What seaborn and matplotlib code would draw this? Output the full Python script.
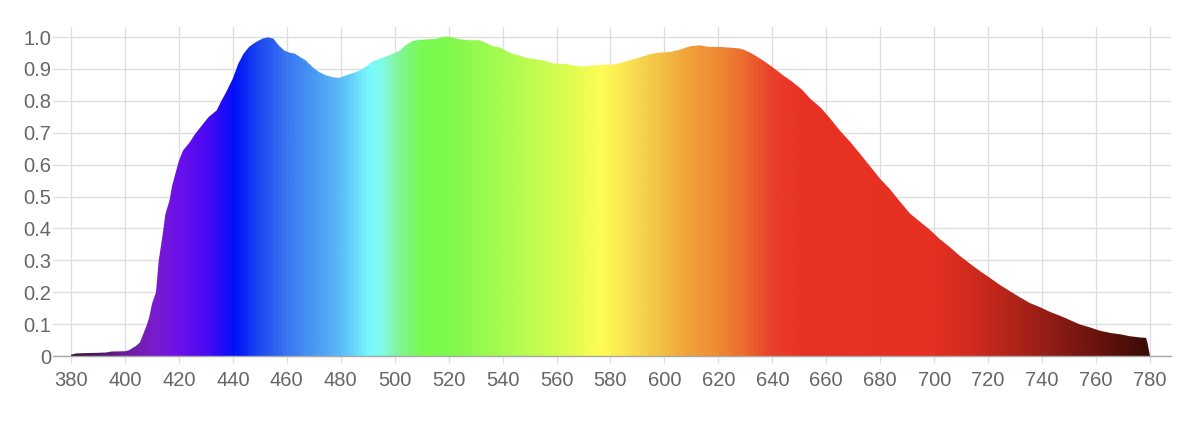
"""
Spectral power distribution, filled with a wavelength colour gradient
"""

import numpy as np
import pandas as pd
import matplotlib
matplotlib.use('Agg')
import matplotlib.pyplot as plt
import seaborn as sns
from matplotlib.colors import LinearSegmentedColormap

# --- Data ---
wavelength = [380, 382, 385, 390, 393, 395, 400, 401.5, 404, 405.5, 406.5, 408, 409, 410,
              411.5, 412.5, 414, 415, 416.5, 417.5, 419, 420, 421.5, 424, 426, 429, 431,
              434, 435.5, 437.5, 440, 442, 444, 446, 448.5, 451, 453, 455, 457, 459, 461,
              463, 465, 467, 469.5, 472, 474.5, 477, 479.5, 482, 484.5, 487, 489.5, 492,
              494.5, 497, 499.5, 502, 504, 506.5, 509, 513, 515.5, 518, 519.5, 521.5, 524,
              528, 531.5, 534, 536.5, 539, 541, 543.5, 546, 548.5, 551, 553.5, 556, 558.5,
              561, 563.5, 566, 568.5, 571, 573.5, 577, 581, 583.5, 587, 590.5, 594.5, 598,
              602, 605.5, 609.5, 613, 616.5, 620.5, 624, 628, 630, 632.5, 636.5, 640, 644,
              647.5, 651, 654, 658, 661.5, 665, 669, 672.5, 676.5, 680, 683.5, 687.5, 691,
              695, 698.5, 702, 706, 709.5, 713.5, 717, 721, 724.5, 728.5, 732, 735.5,
              739.5, 743, 747, 750.5, 754, 758, 761.5, 765.5, 769, 772.5, 776.5, 778.5,
              779, 780]
intensity = [0.004, 0.008, 0.009, 0.010, 0.011, 0.014, 0.015, 0.018, 0.031, 0.042, 0.063,
             0.095, 0.121, 0.163, 0.200, 0.298, 0.382, 0.445, 0.487, 0.534, 0.581, 0.612,
             0.644, 0.670, 0.696, 0.728, 0.749, 0.770, 0.796, 0.827, 0.870, 0.916, 0.948,
             0.969, 0.984, 0.995, 0.999, 0.995, 0.974, 0.958, 0.951, 0.948, 0.937, 0.927,
             0.906, 0.890, 0.880, 0.874, 0.872, 0.880, 0.887, 0.895, 0.908, 0.924, 0.932,
             0.940, 0.948, 0.958, 0.974, 0.987, 0.991, 0.993, 0.995, 1.000, 1.002, 0.998,
             0.993, 0.990, 0.990, 0.981, 0.971, 0.967, 0.958, 0.948, 0.943, 0.935, 0.932,
             0.929, 0.925, 0.918, 0.916, 0.916, 0.911, 0.908, 0.908, 0.911, 0.913, 0.914,
             0.918, 0.927, 0.935, 0.946, 0.951, 0.953, 0.960, 0.971, 0.974, 0.969, 0.969,
             0.967, 0.964, 0.958, 0.948, 0.927, 0.906, 0.880, 0.859, 0.835, 0.807, 0.778,
             0.744, 0.707, 0.670, 0.634, 0.592, 0.555, 0.524, 0.482, 0.447, 0.419, 0.395,
             0.367, 0.340, 0.314, 0.288, 0.266, 0.243, 0.222, 0.201, 0.183, 0.166, 0.152,
             0.138, 0.125, 0.112, 0.099, 0.089, 0.079, 0.072, 0.068, 0.062, 0.058, 0.057,
             0.044, 0.0]

x_ticks = list(range(380, 781, 20))
y_ticks = [0, 0.1, 0.2, 0.3, 0.4, 0.5, 0.6, 0.7, 0.8, 0.9, 1.0]
y_tick_labels = ['0', '0.1', '0.2', '0.3', '0.4', '0.5', '0.6', '0.7', '0.8', '0.9', '1.0']

# colour of the fill at each wavelength
color_nm = [380, 400, 410, 420, 430, 440, 450, 460, 470, 480, 490, 495, 500, 510, 520,
            540, 560, 577, 590, 600, 610, 620, 630, 640, 650, 700, 715, 730, 745, 760, 780]
color_hex = ['#3c1238', '#6a1f9a', '#7a1ccc', '#6a10ec', '#4a08f4', '#0010f8', '#1e4cf0',
             '#3a78f0', '#4a9af4', '#5cbcf8', '#78f8ff', '#80fcea', '#82f5a0', '#78fa50',
             '#80f84c', '#a8fb50', '#d4fc50', '#fffc55', '#f8d850', '#f2bd42', '#f0a038',
             '#ee8a35', '#ec6a2e', '#e8402a', '#e83324', '#e53022', '#d02a1e', '#b02419',
             '#8e1c14', '#6c140e', '#3a0c08']

df = pd.DataFrame({'nm': wavelength, 'value': intensity})

sns.set_theme(style='white')
plt.rcParams['font.family'] = ['Liberation Sans', 'DejaVu Sans']

fig = plt.figure(figsize=(12, 4.24), dpi=100)
ax = fig.add_axes([53 / 1200, 1 - 356 / 424, (1171 - 53) / 1200, (356 - 27) / 424])

# invisible area, used as clip for the gradient
area = ax.fill_between(df['nm'], 0, df['value'], facecolor='none', lw=0)

span = color_nm[-1] - color_nm[0]
cmap = LinearSegmentedColormap.from_list(
    'spectrum', [((n - color_nm[0]) / span, c) for n, c in zip(color_nm, color_hex)])
grad = np.linspace(0, 1, 1600).reshape(1, -1)
im = ax.imshow(grad, cmap=cmap, aspect='auto', origin='lower', zorder=2,
               extent=[color_nm[0], color_nm[-1], 0, df['value'].max()])
im.set_clip_path(area.get_paths()[0], transform=ax.transData)

ax.set_xlim(380 - 18 / 2.697, 780 + 21 / 2.697)
ax.set_ylim(0, 1.0 + 10 / 318)

ax.set_xticks(x_ticks)
ax.set_yticks(y_ticks)
ax.set_yticklabels(y_tick_labels)
ax.set_axisbelow(True)
ax.grid(True, color='#dddddd', lw=0.9)

sns.despine(ax=ax, left=True, top=True, right=True)
ax.spines['bottom'].set_color('#a8a8a8')
ax.spines['bottom'].set_linewidth(1.0)
ax.spines['bottom'].set_zorder(3)

ax.tick_params(axis='x', length=5, width=0.9, color='#dddddd', bottom=True,
               labelsize=14.5, labelcolor='#666666', pad=6)
ax.tick_params(axis='y', length=0, labelsize=14.5, labelcolor='#666666', pad=1.5)

plt.savefig('out.png', dpi=100)
plt.close()
